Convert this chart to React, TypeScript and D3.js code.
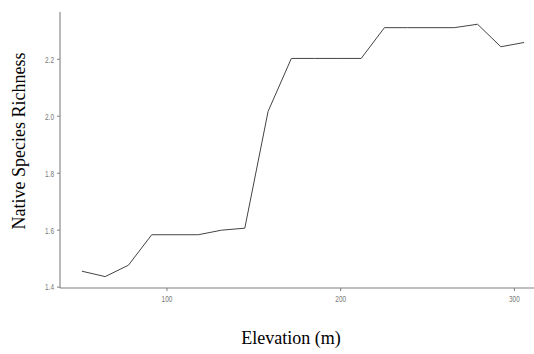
import React from "react";
import * as d3 from "d3";

const elevation = [51, 64.4, 77.8, 91.2, 104.6, 118, 131.4, 144.8, 158.2, 171.6, 185, 198.4, 211.8, 225.2, 238.6, 252, 265.4, 278.8, 292.2, 305.6];
const richness = [1.456, 1.437, 1.477, 1.584, 1.584, 1.584, 1.600, 1.607, 2.017, 2.203, 2.203, 2.203, 2.203, 2.311, 2.311, 2.311, 2.311, 2.323, 2.244, 2.259];
const xTicks = [100, 200, 300];
const yTicks = [1.4, 1.6, 1.8, 2.0, 2.2];

const W = 534;
const H = 354;

export default function App() {
  const x = d3.scaleLinear().domain([38.4, 311.3]).range([60, 534]);
  const y = d3.scaleLinear().domain([1.397, 2.366]).range([288, 12]);
  const data = elevation.map((e, i) => [e, richness[i]] as [number, number]);
  const line = d3
    .line<[number, number]>()
    .x((d) => x(d[0]))
    .y((d) => y(d[1]));
  const axisColor = "#808080";
  const tickFont = "Liberation Sans, Arial, sans-serif";
  return (
    <svg
      width={W}
      height={H}
      style={{ position: "absolute", left: 0, top: 0, background: "#fff" }}
    >
      <line x1={60} x2={60} y1={12} y2={288} stroke={axisColor} strokeWidth={1.1} />
      <line x1={60} x2={534} y1={288} y2={288} stroke={axisColor} strokeWidth={1.1} />
      {yTicks.map((t) => (
        <g key={t}>
          <line x1={57} x2={60} y1={y(t)} y2={y(t)} stroke={axisColor} />
          <text
            transform={`translate(54,${y(t)}) scale(0.68,1)`}
            dy="0.35em"
            textAnchor="end"
            fontFamily={tickFont}
            fontSize={9.5}
            fill="#777"
          >
            {t.toFixed(1)}
          </text>
        </g>
      ))}
      {xTicks.map((t) => (
        <g key={t}>
          <line x1={x(t)} x2={x(t)} y1={288} y2={291} stroke={axisColor} />
          <text
            transform={`translate(${x(t)},302) scale(0.68,1)`}
            textAnchor="middle"
            fontFamily={tickFont}
            fontSize={9.5}
            fill="#777"
          >
            {t}
          </text>
        </g>
      ))}
      <path d={line(data) || ""} fill="none" stroke="#444" strokeWidth={1} />
      <text
        x={291}
        y={344}
        textAnchor="middle"
        fontFamily="Liberation Serif, Times New Roman, serif"
        fontSize={18}
        fill="#000"
      >
        Elevation (m)
      </text>
      <text
        transform="translate(25,141) rotate(-90)"
        textAnchor="middle"
        fontFamily="Liberation Serif, Times New Roman, serif"
        fontSize={18}
        fill="#000"
      >
        Native Species Richness
      </text>
    </svg>
  );
}
